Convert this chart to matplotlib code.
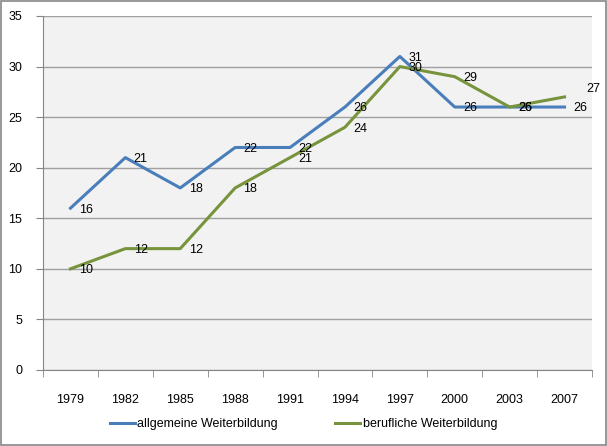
import matplotlib.pyplot as plt
import numpy as np

plt.rcParams['font.family'] = ['Liberation Sans', 'DejaVu Sans']

years = ['1979', '1982', '1985', '1988', '1991', '1994', '1997', '2000', '2003', '2007']
allgemein = [16, 21, 18, 22, 22, 26, 31, 26, 26, 26]
beruflich = [10, 12, 12, 18, 21, 24, 30, 29, 26, 27]

blue = '#4A7EBB'
green = '#77933C'

fig = plt.figure(figsize=(6.07, 4.46), dpi=100)
ax = fig.add_axes([43 / 607, 1 - 370 / 446, (592 - 43) / 607, (370 - 16) / 446])
ax.set_facecolor('#F2F2F2')

x = np.arange(len(years))
ax.plot(x, allgemein, color=blue, linewidth=2.2, label='allgemeine Weiterbildung')
ax.plot(x, beruflich, color=green, linewidth=2.2, label='berufliche Weiterbildung')

# data labels right of each point
for xi, v in zip(x, allgemein):
    ax.annotate(str(v), (xi, v), xytext=(6, -1), textcoords='offset points',
                ha='left', va='center', fontsize=9)
for i, (xi, v) in enumerate(zip(x, beruflich)):
    off = (6, -1)
    if i == len(x) - 1:
        off = (16, 6)  # last label pushed off the blue one
    ax.annotate(str(v), (xi, v), xytext=off, textcoords='offset points',
                ha='left', va='center', fontsize=9, annotation_clip=False)

ax.set_xlim(-0.5, len(years) - 0.5)
ax.set_ylim(0, 35)
ax.set_yticks(range(0, 36, 5))
ax.set_xticks(x)
ax.set_xticklabels(years)
ax.set_xticks(np.arange(-0.5, len(years), 1), minor=True)
ax.tick_params(axis='x', which='major', length=0, pad=17, labelsize=9)
ax.tick_params(axis='x', which='minor', length=5, color='#868686')
ax.tick_params(axis='y', length=5, color='#868686', labelsize=9, pad=10)
ax.yaxis.grid(True, color='#A0A0A0', linewidth=1)
ax.set_axisbelow(True)
for s in ['top', 'right']:
    ax.spines[s].set_visible(False)
for s in ['left', 'bottom']:
    ax.spines[s].set_color('#868686')

fig.legend(loc='center', bbox_to_anchor=(0.5, 1 - 424 / 446), ncol=2, frameon=False,
           fontsize=9, handlelength=2, columnspacing=4.6, handletextpad=0.2)

border = plt.Rectangle((0.002, 0.002), 0.996, 0.996, transform=fig.transFigure,
                       fill=False, edgecolor='#868686', linewidth=1.2)
fig.patches.append(border)

fig.savefig('out.png', dpi=100)
